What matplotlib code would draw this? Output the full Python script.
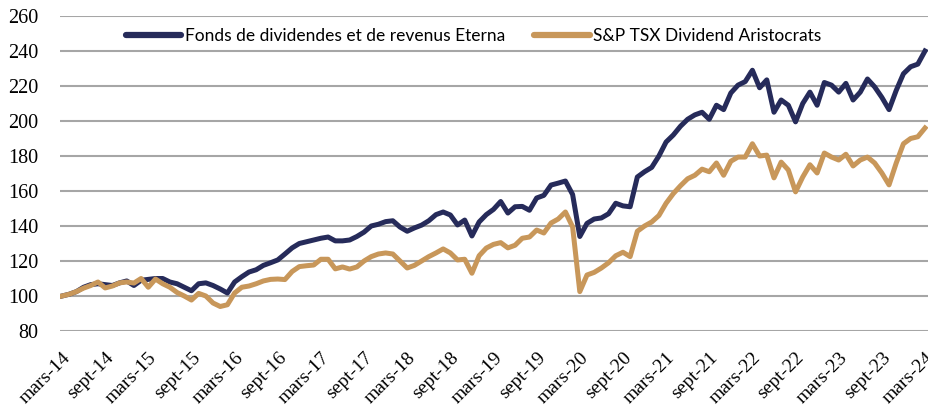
import matplotlib
matplotlib.use("Agg")
import matplotlib.pyplot as plt
import numpy as np

# Monthly index values, March 2014 -> March 2024 (base 100)
eterna = [100, 101, 102.5, 105, 106.5, 107, 106.5, 106, 107.5, 108.6, 106, 109,
          109.5, 110, 110, 108, 107, 105, 103, 107, 107.5, 106, 104, 101.7,
          108, 111, 113.7, 115, 117.5, 119, 120.6, 124, 127.5, 130, 131, 132,
          133, 133.7, 131.5, 131.5, 132, 134, 136.5, 140, 141, 142.5, 143, 139.4,
          137, 138.9, 140.5, 143, 146.5, 148, 146.3, 140.6, 143.4, 134.3, 142.3, 146.5,
          149.5, 154, 147.4, 151, 151.2, 149, 156, 157.5, 163.4, 164.5, 165.7, 158,
          134, 141.5, 144, 144.6, 147, 153, 151.5, 151, 168, 171, 173.5, 180,
          188, 192, 197, 201, 203.5, 205, 201, 209, 206.5, 216, 220.5, 222.5,
          229, 219, 223.5, 205, 212, 209, 199.5, 210, 216.5, 209, 222, 220.5,
          216.5, 221.5, 212, 216.5, 224, 219.5, 213.5, 206.5, 217.5, 227, 231, 232.5,
          240]
aristocrats = [100, 101, 102.5, 104.5, 106, 108, 104.6, 105.7, 107.5, 108, 107.4, 110,
               105, 109.7, 107, 105, 102, 100, 97.7, 101.5, 100, 96, 94, 95,
               101.7, 105, 105.7, 107, 108.6, 109.5, 109.7, 109.4, 114, 116.8, 117.3, 117.7,
               121, 121, 115.5, 116.6, 115.4, 116.6, 120, 122.5, 124, 124.6, 124, 120,
               116, 117.5, 120, 122.5, 124.6, 126.9, 124.6, 120.6, 121, 113, 123, 127.4,
               129.5, 130.5, 127.5, 129, 133, 133.7, 137.7, 136, 141.7, 144, 148, 139.5,
               102.5, 112, 113.5, 116, 119, 123, 125, 122.5, 137, 140, 142.3, 146,
               153, 158.5, 163, 167, 169, 172.5, 171, 176, 169, 177, 179.4, 179.4,
               187, 180, 180.5, 167.5, 176.5, 172, 159.5, 168, 175, 170.3, 181.7, 179.4,
               177.7, 181, 174.3, 177.7, 179.4, 176, 170.3, 163.5, 176, 187, 190, 191,
               196]
tick_labels = ["mars-14", "sept-14", "mars-15", "sept-15", "mars-16", "sept-16",
               "mars-17", "sept-17", "mars-18", "sept-18", "mars-19", "sept-19",
               "mars-20", "sept-20", "mars-21", "sept-21", "mars-22", "sept-22",
               "mars-23", "sept-23", "mars-24"]
series_names = ["Fonds de dividendes et de revenus Eterna", "S&P TSX Dividend Aristocrats"]

navy = "#262B5A"
gold = "#C8975A"

fig = plt.figure(figsize=(9.29, 4.07), dpi=100)
ax = fig.add_axes([60/929, 1 - 331/407, 1 - 60/929, (331 - 16)/407])

x = np.arange(len(eterna))
ax.plot(x, eterna, color=navy, lw=3.6, solid_joinstyle="round", label=series_names[0], zorder=3)
ax.plot(x, aristocrats, color=gold, lw=3.6, solid_joinstyle="round", label=series_names[1], zorder=3)

ax.set_ylim(80, 260)
ax.set_yticks(np.arange(80, 261, 20))
ax.set_xlim(-2/7.19, 120 + 4/7.19)
ax.set_xticks(np.arange(0, 121, 6))
ax.set_xticklabels(tick_labels, rotation=45, ha="right", va="top",
                   rotation_mode="anchor", family="Liberation Serif", fontsize=14)
for lab in ax.get_yticklabels():
    lab.set_family("Liberation Serif")
    lab.set_fontsize(14.5)

ax.grid(axis="y", color="#A6A6A6", lw=1.5)
ax.set_axisbelow(True)
for s in ax.spines.values():
    s.set_visible(False)
ax.tick_params(axis="both", length=0)
ax.tick_params(axis="y", pad=15.5)
ax.tick_params(axis="x", pad=13)

leg = ax.legend(loc="upper center", bbox_to_anchor=(0.476, 1.01), ncol=2, frameon=False,
                prop={"family": "Lato", "size": 12.5}, handlelength=3.2,
                handletextpad=0.2, columnspacing=1.7)
for h in leg.get_lines():
    h.set_linewidth(4.5)
    h.set_solid_capstyle("round")

fig.savefig("out.png", dpi=100)
